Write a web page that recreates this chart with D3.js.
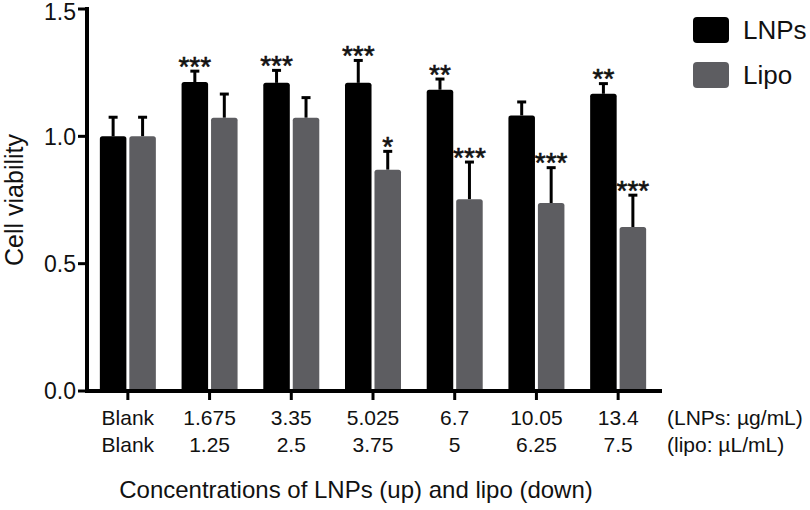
<!DOCTYPE html>
<html>
<head>
<meta charset="utf-8">
<script src="https://cdn.jsdelivr.net/npm/d3@7"></script>
<style>
  html, body { margin: 0; padding: 0; background: #fff; }
  svg { display: block; }
  text { font-family: "Liberation Sans", Arial, Helvetica, sans-serif; fill: #111; }
</style>
</head>
<body>
<svg id="chart" width="810" height="510"></svg>
<script>
// ---- data ----
const groupsLNP  = ["Blank", "1.675", "3.35", "5.025", "6.7", "10.05", "13.4"];
const groupsLipo = ["Blank", "1.25", "2.5", "3.75", "5", "6.25", "7.5"];
const lnpMean  = [1.00, 1.213, 1.21, 1.21, 1.183, 1.082, 1.167];
const lnpErr   = [0.075, 0.043, 0.049, 0.088, 0.042, 0.053, 0.040];
const lipoMean = [1.00, 1.073, 1.073, 0.869, 0.753, 0.738, 0.644];
const lipoErr  = [0.075, 0.093, 0.079, 0.072, 0.146, 0.139, 0.125];
const lnpSig   = ["", "***", "***", "***", "**", "", "**"];
const lipoSig  = ["", "", "", "*", "***", "***", "***"];
const seriesNames = ["LNPs", "Lipo"];
const yTicks = [0, 0.5, 1.0, 1.5];
const unitLNP = "(LNPs: \u00B5g/mL)";
const unitLipo = "(lipo: \u00B5L/mL)";
const yTitle = "Cell viability";
const xTitle = "Concentrations of LNPs (up) and lipo (down)";

// ---- layout ----
const svg = d3.select("#chart");
const colors = ["#000000", "#5d5d61"];
const axisX0 = 87, axisX1 = 662, axisY = 391;

const y = d3.scaleLinear().domain([0, 1.5]).range([391, 9]);
const x = d3.scaleBand().domain(d3.range(groupsLNP.length)).range([87, 659]);
const sub = d3.scaleBand().domain([0, 1]).range([-28, 28]).paddingInner(0.1);

const series = [
  { mean: lnpMean, err: lnpErr, sig: lnpSig },
  { mean: lipoMean, err: lipoErr, sig: lipoSig }
];

const g = svg.append("g");

series.forEach((s, si) => {
  const gs = g.append("g");
  const cx = i => x(i) + x.bandwidth() / 2 + sub(si) + sub.bandwidth() / 2;
  // error bars (upper only)
  gs.selectAll("line.err").data(s.mean).join("line")
    .attr("x1", (d, i) => cx(i)).attr("x2", (d, i) => cx(i))
    .attr("y1", d => y(d)).attr("y2", (d, i) => y(d + s.err[i]))
    .attr("stroke", "#000").attr("stroke-width", 3);
  gs.selectAll("line.cap").data(s.mean).join("line")
    .attr("x1", (d, i) => cx(i) - 4.5).attr("x2", (d, i) => cx(i) + 4.5)
    .attr("y1", (d, i) => y(d + s.err[i])).attr("y2", (d, i) => y(d + s.err[i]))
    .attr("stroke", "#000").attr("stroke-width", 3);
  // bars
  gs.selectAll("rect").data(s.mean).join("rect")
    .attr("x", (d, i) => x(i) + x.bandwidth() / 2 + sub(si))
    .attr("width", sub.bandwidth())
    .attr("y", d => y(d))
    .attr("height", d => y(0) - y(d) + 2)
    .attr("rx", 2.5)
    .attr("fill", colors[si]);
  // significance stars
  gs.selectAll("text").data(s.mean).join("text")
    .attr("x", (d, i) => cx(i))
    .attr("y", (d, i) => y(d + s.err[i]) + 4.5)
    .attr("text-anchor", "middle")
    .attr("font-size", 28)
    .attr("stroke", "#111").attr("stroke-width", 0.6)
    .text((d, i) => s.sig[i]);
});

// y axis
const ya = svg.append("g");
ya.append("line").attr("x1", axisX0).attr("x2", axisX0)
  .attr("y1", y(1.5) - 2).attr("y2", axisY + 2)
  .attr("stroke", "#000").attr("stroke-width", 4);
ya.selectAll("line.tick").data(yTicks).join("line")
  .attr("x1", axisX0 - 9).attr("x2", axisX0)
  .attr("y1", d => y(d)).attr("y2", d => y(d))
  .attr("stroke", "#000").attr("stroke-width", 3);
ya.selectAll("text").data(yTicks).join("text")
  .attr("x", 76).attr("y", d => Math.max(y(d), 11.5))
  .attr("dy", "0.36em")
  .attr("text-anchor", "end")
  .attr("font-size", 23)
  .text(d => d3.format(".1f")(d));

// x axis
const xa = svg.append("g");
xa.append("line").attr("x1", axisX0 - 2).attr("x2", axisX1)
  .attr("y1", axisY).attr("y2", axisY)
  .attr("stroke", "#000").attr("stroke-width", 4);
xa.selectAll("line.tick").data(groupsLNP).join("line")
  .attr("x1", (d, i) => x(i) + x.bandwidth() / 2).attr("x2", (d, i) => x(i) + x.bandwidth() / 2)
  .attr("y1", axisY).attr("y2", axisY + 9)
  .attr("stroke", "#000").attr("stroke-width", 3);
xa.selectAll("text.l1").data(groupsLNP).join("text").attr("class", "l1")
  .attr("x", (d, i) => x(i) + x.bandwidth() / 2).attr("y", 425)
  .attr("text-anchor", "middle").attr("font-size", 21).text(d => d);
xa.selectAll("text.l2").data(groupsLipo).join("text").attr("class", "l2")
  .attr("x", (d, i) => x(i) + x.bandwidth() / 2).attr("y", 452)
  .attr("text-anchor", "middle").attr("font-size", 21).text(d => d);
xa.append("text").attr("x", 667).attr("y", 425).attr("font-size", 21).text(unitLNP);
xa.append("text").attr("x", 667).attr("y", 452).attr("font-size", 21).text(unitLipo);

// titles
svg.append("text")
  .attr("transform", "translate(23,200) rotate(-90)")
  .attr("text-anchor", "middle").attr("font-size", 25).text(yTitle);
svg.append("text")
  .attr("x", 356).attr("y", 498)
  .attr("text-anchor", "middle").attr("font-size", 24).text(xTitle);

// legend
const lg = svg.append("g");
seriesNames.forEach((n, i) => {
  lg.append("rect").attr("x", 693).attr("y", 17 + i * 45).attr("width", 36).attr("height", 26)
    .attr("rx", 4).attr("fill", colors[i]);
  lg.append("text").attr("x", 743).attr("y", 30 + i * 45).attr("dy", "0.36em")
    .attr("font-size", 26).text(n);
});
</script>
</body>
</html>
